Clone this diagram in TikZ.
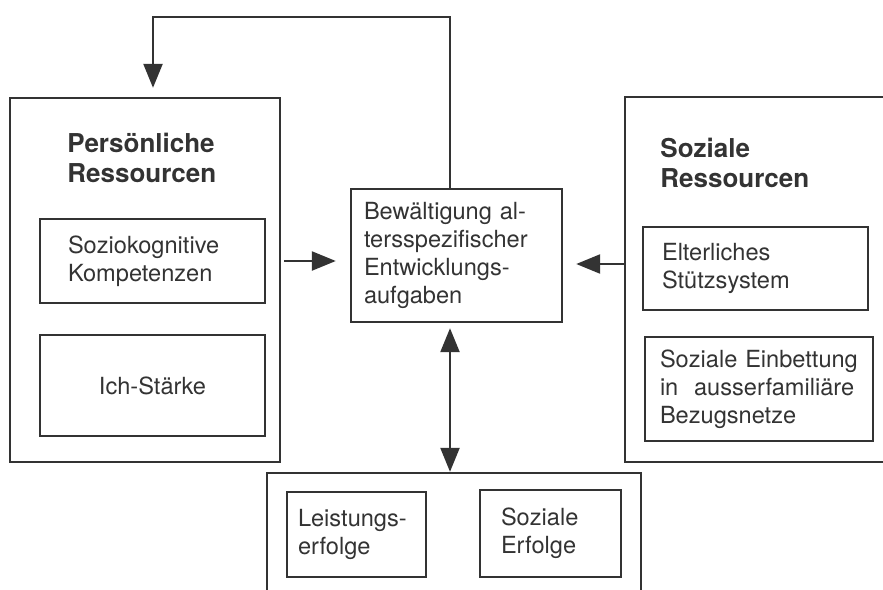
\documentclass[tikz,border=0pt]{standalone}
\usepackage{fontspec}
\setmainfont{TeX Gyre Heros}
\usetikzlibrary{arrows.meta,positioning,calc}
\definecolor{ink}{HTML}{333333}
\tikzset{
  outerbox/.style={draw=ink,line width=1.2pt,inner sep=0pt},
  innerbox/.style={draw=ink,line width=1.2pt,align=left,inner ysep=0pt,
                   text=ink,font=\fontsize{11.8}{14}\selectfont},
  heading/.style={anchor=west,align=left,inner sep=0pt,text=ink,
                  font=\fontsize{13}{15}\selectfont\bfseries},
  arr/.style={-{Triangle[length=12pt,width=9.5pt]},line width=1.2pt,draw=ink},
  dblarr/.style={{Triangle[length=12pt,width=9.5pt]}-{Triangle[length=12pt,width=9.5pt]},
                 line width=1.2pt,draw=ink}
}
\begin{document}
\begin{tikzpicture}[x=0.5pt,y=-0.5pt]
    \useasboundingbox (0,0) rectangle (883,589);
    % personal resources
    \node[outerbox,minimum width=135pt,minimum height=182pt] (pers) at (145,280) {};
    \node[heading] (perstitle) at (67,158) {Persönliche\\Ressourcen};
    \node[innerbox,text width=84.5pt,inner xsep=14pt,minimum height=42pt]
      (sozkog) at (152.5,261) {Soziokognitive\\Kompetenzen};
    \node[innerbox,align=center,minimum width=112.5pt,minimum height=50.5pt]
      (ich) at (152.5,385.5) {Ich-Stärke};
    % coping
    \node[innerbox,text width=92.5pt,inner xsep=6.5pt,minimum height=66.5pt]
      (bew) at (456.5,255.5) {Bewältigung al-\\tersspezifischer\\Entwicklungs-\\aufgaben};
    % social resources
    \node[outerbox,minimum width=137.5pt,minimum height=182.5pt] (sozres) at (762.5,279.5) {};
    \node[heading] (sozrestitle) at (660,162.5) {Soziale\\Ressourcen};
    \node[innerbox,text width=93.5pt,inner xsep=9.5pt,minimum height=41.5pt]
      (eltern) at (755.5,268.5) {Elterliches\\Stützsystem};
    \node[innerbox,text width=99pt,inner xsep=7.5pt,minimum height=52pt]
      (einbett) at (759,389) {Soziale Einbettung\\in~~ausserfamiliäre\\Bezugsnetze};
    % outcomes
    \node[outerbox,minimum width=187pt,minimum height=73.5pt] (erfolg) at (454,546.5) {};
    \node[innerbox,text width=58.5pt,inner xsep=5.5pt,minimum height=42.5pt]
      (leist) at (356.5,534.5) {Leistungs-\\erfolge};
    \node[innerbox,text width=49.5pt,inner xsep=10.5pt,minimum height=43.5pt]
      (sozerf) at (550.5,533.5) {Soziale\\Erfolge};
    % connectors
    \coordinate (loop) at (450,17);
    \coordinate (rjoin) at (600,264);
    \draw[arr,shorten >=4.5pt] (bew.north -| loop) -- (loop) -| ([xshift=4pt]pers.north);
    \draw[arr,shorten <=1.5pt,shorten >=7pt] (pers.east |- sozkog) -- (bew.west |- sozkog);
    \draw[arr,shorten >=6.5pt] (sozres.west |- rjoin) -- (bew.east |- rjoin);
    \draw[dblarr,shorten <=2.5pt] (bew.south -| loop) -- (erfolg.north -| loop);
\end{tikzpicture}
\end{document}
